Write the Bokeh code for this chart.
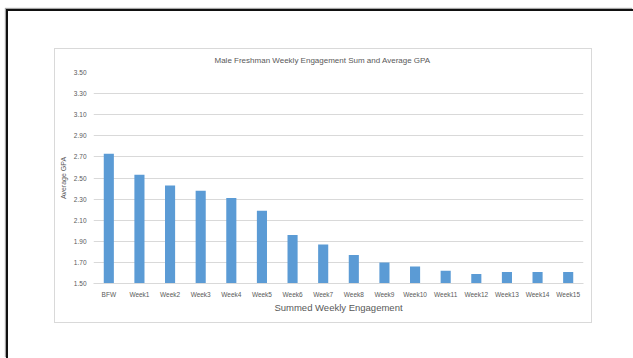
from bokeh.plotting import figure
from bokeh.models import (ColumnDataSource, FixedTicker, Range1d,
                          PrintfTickFormatter, InlineStyleSheet, Title)
from bokeh.embed import file_html
from bokeh.resources import INLINE

# Average GPA of male freshmen per summed weekly engagement bucket
categories = ["BFW", "Week1", "Week2", "Week3", "Week4", "Week5", "Week6", "Week7",
              "Week8", "Week9", "Week10", "Week11", "Week12", "Week13", "Week14", "Week15"]
avg_gpa = [2.73, 2.53, 2.43, 2.38, 2.31, 2.19, 1.96, 1.87,
           1.77, 1.70, 1.66, 1.62, 1.59, 1.61, 1.61, 1.61]
y_ticks = [1.50, 1.70, 1.90, 2.10, 2.30, 2.50, 2.70, 2.90, 3.10, 3.30, 3.50]

title_text = "Male Freshman Weekly Engagement Sum and Average GPA"
x_title = "Summed Weekly Engagement"
y_title = "Average GPA"

TEXT = "#595959"
GRID = "#d9d9d9"
BAR = "#5B9BD5"
FONT = "Liberation Sans"

src = ColumnDataSource(dict(cat=categories, gpa=avg_gpa))

p = figure(width=633, height=358, x_range=categories,
           y_range=Range1d(y_ticks[0], y_ticks[-1]),
           output_backend="svg", toolbar_location=None,
           min_border_left=93, min_border_right=50,
           min_border_top=72, min_border_bottom=75)

p.vbar(x="cat", top="gpa", bottom=y_ticks[0], width=0.33, source=src,
       fill_color=BAR, line_color=None)

p.outline_line_color = None
p.background_fill_color = "white"
p.border_fill_color = "white"

p.xgrid.grid_line_color = None
p.ygrid.grid_line_color = GRID
p.ygrid.grid_line_width = 1

p.yaxis.ticker = FixedTicker(ticks=y_ticks)
p.yaxis.formatter = PrintfTickFormatter(format="%.2f")
p.yaxis.axis_line_color = None
p.yaxis.major_tick_line_color = None
p.yaxis.minor_tick_line_color = None
p.yaxis.major_label_standoff = 1
p.yaxis.axis_label = y_title
p.yaxis.axis_label_standoff = 4
p.yaxis.axis_label_text_font_size = "7px"

p.xaxis.axis_line_color = GRID
p.xaxis.major_tick_line_color = None
p.xaxis.minor_tick_line_color = None
p.xaxis.major_label_standoff = 1
p.xaxis.axis_label = x_title
p.xaxis.axis_label_standoff = 1
p.xaxis.axis_label_text_font_size = "9.5px"

for ax in (p.xaxis, p.yaxis):
    ax.major_label_text_font_size = "6.5px"
    ax.major_label_text_color = TEXT
    ax.major_label_text_font = FONT
    ax.axis_label_text_color = TEXT
    ax.axis_label_text_font = FONT
    ax.axis_label_text_font_style = "normal"

p.add_layout(Title(text=title_text, align="left", offset=121, standoff=15,
                   text_font=FONT, text_font_size="8px", text_color=TEXT,
                   text_font_style="normal"), "above")

# chart-area border and the outer black frame, drawn over the canvas with CSS
frame_css = InlineStyleSheet(css="""
:host { position: relative; }
:host::before {
  content: ""; position: absolute; left: 54px; top: 48px;
  width: 536px; height: 273px; border: 1px solid #d9d9d9;
  pointer-events: none; z-index: 10;
}
:host::after {
  content: ""; position: absolute; left: 6px; top: 9px; right: 0; bottom: 0;
  border-top: 2.5px solid #111; border-left: 2.5px solid #111;
  box-shadow: -1px -1px 1px rgba(0,0,0,0.35);
  pointer-events: none; z-index: 10;
}
""")
p.stylesheets = [frame_css]

open("out.html", "w").write(file_html(p, INLINE))
